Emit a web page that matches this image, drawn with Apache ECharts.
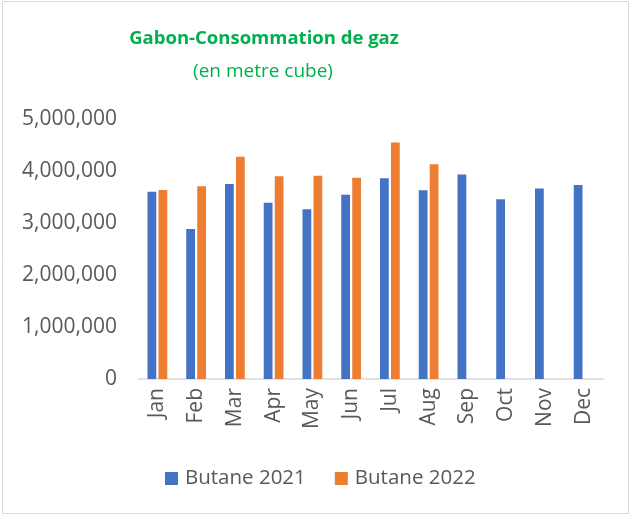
<!DOCTYPE html>
<html>
<head>
<meta charset="utf-8">
<script src="https://cdn.jsdelivr.net/npm/echarts@6/dist/echarts.min.js"></script>
<style>
html,body{margin:0;padding:0;background:#fff;}
#c{width:631px;height:516px;}
</style>
</head>
<body>
<div id="c"></div>
<script>
const months = ["Jan","Feb","Mar","Apr","May","Jun","Jul","Aug","Sep","Oct","Nov","Dec"];
const butane2021 = [3600000, 2885000, 3750000, 3390000, 3265000, 3545000, 3860000, 3630000, 3935000, 3455000, 3665000, 3730000];
const butane2022 = [3635000, 3705000, 4275000, 3900000, 3910000, 3872000, 4550000, 4128000, null, null, null, null];
const seriesNames = ["Butane 2021", "Butane 2022"];
const titleText = "Gabon-Consommation de gaz";
const subtitleText = "(en metre cube)";

const chart = echarts.init(document.getElementById('c'), null, {renderer: 'canvas'});
const font = "'Open Sans', 'Liberation Sans', sans-serif";
chart.setOption({
  animation: false,
  backgroundColor: '#ffffff',
  textStyle: {fontFamily: font},
  graphic: [{
    type: 'rect',
    shape: {x: 2.5, y: 1.5, width: 626, height: 512},
    style: {fill: 'none', stroke: '#d9d9d9', lineWidth: 1},
    silent: true
  }],
  title: [{
    text: titleText,
    left: 259, top: 24, textAlign: 'center',
    textStyle: {color: '#00B050', fontSize: 18.5, fontWeight: 'bold', fontFamily: font}
  }, {
    text: subtitleText,
    left: 258, top: 57, textAlign: 'center',
    textStyle: {color: '#00B050', fontSize: 19, fontWeight: 'normal', fontFamily: font}
  }],
  legend: {
    data: seriesNames,
    bottom: 22, left: 160,
    itemWidth: 13, itemHeight: 13, itemGap: 29,
    icon: 'rect',
    textStyle: {color: '#595959', fontSize: 20.5, fontFamily: font, padding: [0, 0, 0, 2]}
  },
  grid: {left: 138, right: 28, top: 119, bottom: 137, containLabel: false},
  xAxis: {
    type: 'category',
    data: months,
    axisLine: {lineStyle: {color: '#d9d9d9', width: 1.5}},
    axisTick: {show: false},
    axisLabel: {rotate: 90, color: '#595959', fontSize: 21, margin: 9, fontFamily: font}
  },
  yAxis: {
    type: 'value',
    min: 0, max: 5000000, interval: 1000000,
    splitLine: {show: false},
    axisLine: {show: false},
    axisTick: {show: false},
    axisLabel: {
      color: '#595959', fontSize: 21, margin: 21, fontFamily: font,
      formatter: v => v.toLocaleString('en-US')
    }
  },
  series: [{
    name: seriesNames[0], type: 'bar', data: butane2021,
    itemStyle: {color: '#4472C4'},
    barGap: '25%', barCategoryGap: '49%'
  }, {
    name: seriesNames[1], type: 'bar', data: butane2022,
    itemStyle: {color: '#ED7D31'},
    barGap: '25%', barCategoryGap: '49%'
  }]
});
</script>
</body>
</html>
